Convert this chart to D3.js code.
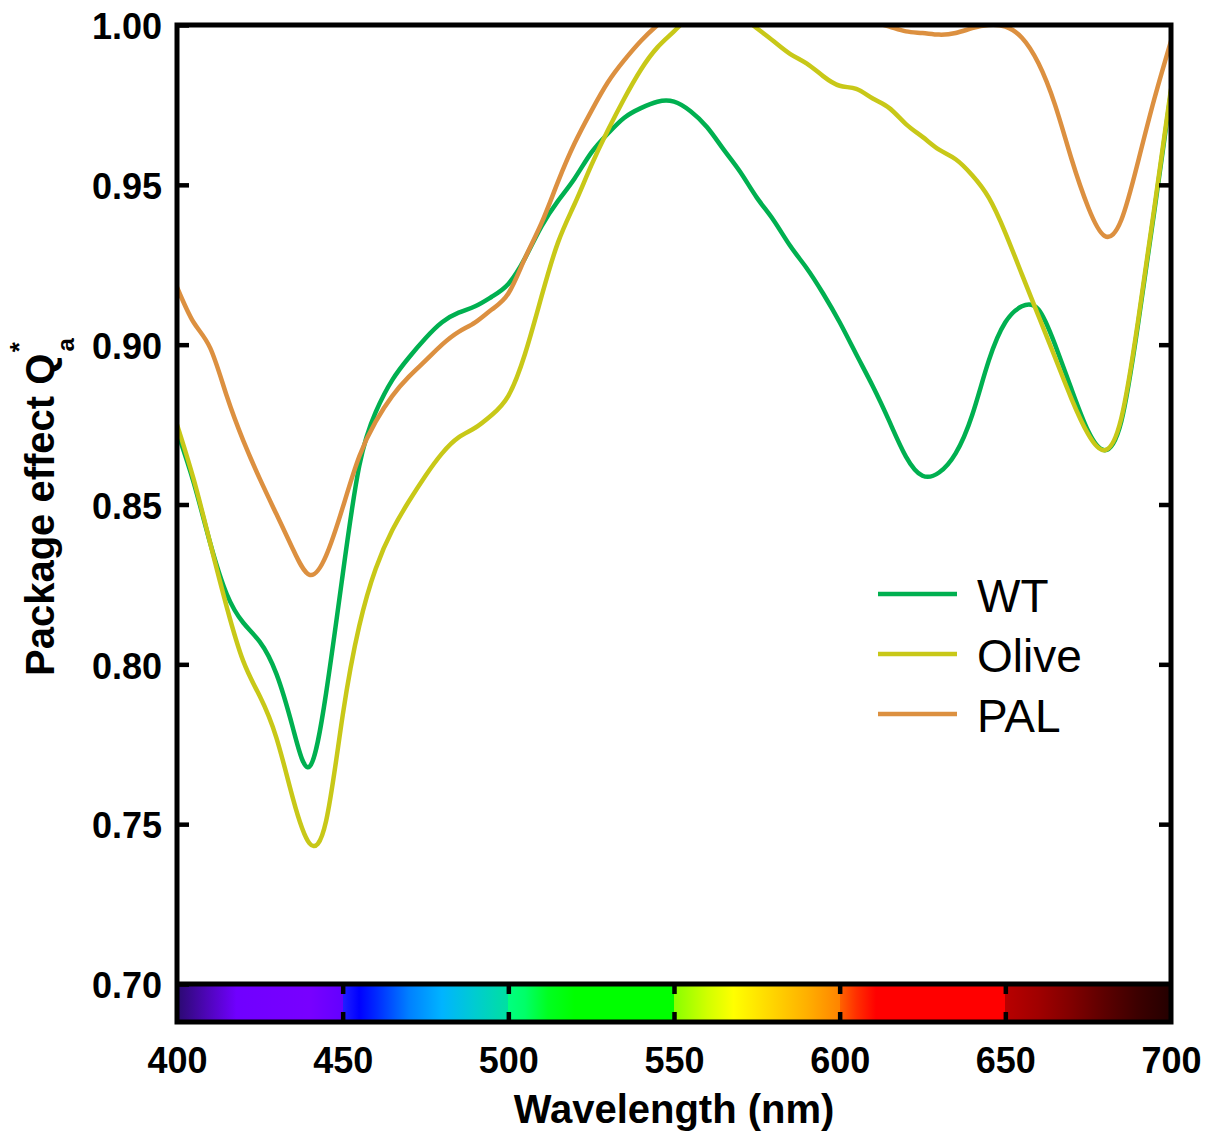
<!DOCTYPE html>
<html>
<head>
<meta charset="utf-8">
<script src="https://cdn.jsdelivr.net/npm/d3@7"></script>
<style>
  body { margin: 0; background: #fff; }
  text { font-family: Arial, "Liberation Sans", sans-serif; }
</style>
</head>
<body>
<div id="chart"></div>
<script>
// Wavelength grid (nm)
const wavelength = [400, 405, 410, 415, 420, 425, 430, 435, 440, 445,
                    450, 455, 460, 465, 470, 475, 480, 485, 490, 495,
                    500, 505, 510, 515, 520, 525, 530, 535, 540, 545,
                    550, 555, 560, 565, 570, 575, 580, 585, 590, 595,
                    600, 605, 610, 615, 620, 625, 630, 635, 640, 645,
                    650, 655, 660, 665, 670, 675, 680, 685, 690, 695, 700];

// Package effect Q*a
const wt = [0.873, 0.857, 0.838, 0.822, 0.813, 0.807, 0.797, 0.780, 0.768, 0.791,
            0.828, 0.862, 0.879, 0.889, 0.896, 0.902, 0.907, 0.910, 0.912, 0.915,
            0.919, 0.927, 0.937, 0.945, 0.952, 0.960, 0.966, 0.971, 0.974, 0.976,
            0.976, 0.973, 0.968, 0.961, 0.954, 0.946, 0.939, 0.931, 0.924, 0.916,
            0.907, 0.897, 0.887, 0.876, 0.865, 0.859, 0.860, 0.866, 0.878, 0.895,
            0.907, 0.912, 0.911, 0.900, 0.886, 0.873, 0.867, 0.876, 0.906, 0.942, 0.979];

const olive = [0.875, 0.858, 0.838, 0.818, 0.801, 0.790, 0.777, 0.758, 0.744, 0.751,
               0.784, 0.812, 0.830, 0.842, 0.851, 0.859, 0.866, 0.871, 0.874, 0.878,
               0.884, 0.897, 0.915, 0.932, 0.944, 0.956, 0.967, 0.977, 0.986, 0.993,
               0.998, 1.003, 1.006, 1.006, 1.003, 0.999, 0.995, 0.991, 0.988, 0.984,
               0.981, 0.980, 0.977, 0.974, 0.969, 0.965, 0.961, 0.958, 0.953, 0.946,
               0.935, 0.922, 0.909, 0.896, 0.883, 0.872, 0.867, 0.877, 0.907, 0.943, 0.980];

const pal = [0.918, 0.907, 0.899, 0.884, 0.870, 0.858, 0.847, 0.836, 0.828, 0.834,
             0.849, 0.865, 0.876, 0.884, 0.890, 0.895, 0.900, 0.904, 0.907, 0.911,
             0.916, 0.927, 0.938, 0.951, 0.963, 0.973, 0.982, 0.989, 0.995, 1.000,
             1.004, 1.006, 1.007, 1.008, 1.008, 1.008, 1.008, 1.007, 1.006, 1.005,
             1.004, 1.003, 1.001, 0.9995, 0.998, 0.9975, 0.997, 0.9975, 0.999, 1.000,
             0.9995, 0.996, 0.988, 0.975, 0.958, 0.943, 0.934, 0.939, 0.957, 0.977, 0.995];

const seriesNames = ["WT", "Olive", "PAL"];
const seriesColors = ["#00b050", "#c8c818", "#dc9040"];

const xTicks = [400, 450, 500, 550, 600, 650, 700];
const barTicks = [450, 500, 550, 600, 650];
const yTicks = [0.70, 0.75, 0.80, 0.85, 0.90, 0.95, 1.00];

// Spectrum colour bar stops (nm, colour); repeated nm gives the hard steps
const spectrumNm = [400, 408, 418, 440, 450,
                    450, 455, 460, 470, 480, 490, 500,
                    500, 505, 512, 520, 550,
                    550, 560, 568, 580, 590, 600,
                    600, 605, 611, 650,
                    650, 660, 670, 680, 690, 700];
const spectrumColor = ["#2a0a70", "#4a06b0", "#7000ff", "#7800ff", "#6400ff",
                       "#2020ff", "#0000ff", "#0028ff", "#0080ff", "#00b4ff", "#00ccd0", "#00e0a0",
                       "#00ff80", "#00ff68", "#00ff20", "#00ff00", "#00ff00",
                       "#88ff00", "#d0ff00", "#ffff00", "#ffd400", "#ffb000", "#ff8400",
                       "#ff6400", "#ff3000", "#ff0000", "#ff0000",
                       "#b80000", "#a00000", "#800000", "#5c0000", "#3c0000", "#240000"];

const width = 1211, height = 1138;
const svg = d3.select("#chart").append("svg")
    .attr("width", width)
    .attr("height", height);

const x = d3.scaleLinear().domain([400, 700]).range([177, 1171]);
const y = d3.scaleLinear().domain([0.70, 1.00]).range([984, 25]);
const barBottom = 1022;
const frameW = 5;

// Gradient for the spectrum bar
const defs = svg.append("defs");
const grad = defs.append("linearGradient")
    .attr("id", "spectrum")
    .attr("gradientUnits", "userSpaceOnUse")
    .attr("x1", x(400)).attr("x2", x(700))
    .attr("y1", 0).attr("y2", 0);
spectrumNm.forEach(function(nm, i) {
    grad.append("stop")
        .attr("offset", (nm - 400) / 300)
        .attr("stop-color", spectrumColor[i]);
});

defs.append("clipPath").attr("id", "plotClip")
  .append("rect")
    .attr("x", x(400)).attr("y", y(1.0))
    .attr("width", x(700) - x(400))
    .attr("height", y(0.70) - y(1.0));

// Spectrum bar
svg.append("rect")
    .attr("x", x(400)).attr("y", y(0.70))
    .attr("width", x(700) - x(400))
    .attr("height", barBottom - y(0.70))
    .attr("fill", "url(#spectrum)");

// Curves
const seriesValues = [wt, olive, pal];
const line = d3.line()
    .x(d => x(d[0]))
    .y(d => y(d[1]))
    .curve(d3.curveNatural);

svg.append("g")
    .attr("clip-path", "url(#plotClip)")
  .selectAll("path")
  .data(seriesValues)
  .enter().append("path")
    .attr("d", vals => line(wavelength.map((w, i) => [w, vals[i]])))
    .attr("fill", "none")
    .attr("stroke", (d, i) => seriesColors[i])
    .attr("stroke-width", 4.5)
    .attr("stroke-linejoin", "round");

// Frame
svg.append("rect")
    .attr("x", x(400)).attr("y", y(1.0))
    .attr("width", x(700) - x(400))
    .attr("height", barBottom - y(1.0))
    .attr("fill", "none")
    .attr("stroke", "#000")
    .attr("stroke-width", frameW);
svg.append("line")
    .attr("x1", x(400)).attr("x2", x(700))
    .attr("y1", y(0.70)).attr("y2", y(0.70))
    .attr("stroke", "#000")
    .attr("stroke-width", frameW);

function styleAxis(g, size) {
    g.select(".domain").remove();
    g.selectAll(".tick line").attr("stroke", "#000").attr("stroke-width", 4.5);
    g.selectAll("text")
        .attr("font-family", "Arial, 'Liberation Sans', sans-serif")
        .attr("font-weight", "bold")
        .attr("font-size", size)
        .attr("fill", "#000");
}

// Left axis (inward ticks + labels)
svg.append("g")
    .attr("transform", `translate(${x(400)},0)`)
    .call(d3.axisLeft(y).tickValues(yTicks).tickFormat(d3.format(".2f"))
          .tickSizeInner(-12).tickSizeOuter(0).tickPadding(15))
    .call(g => styleAxis(g, 36))
    .call(g => g.selectAll("text").attr("dy", "0.38em"));

// Right axis (inward ticks only)
svg.append("g")
    .attr("transform", `translate(${x(700)},0)`)
    .call(d3.axisRight(y).tickValues(yTicks.slice(1, -1)).tickFormat("")
          .tickSizeInner(-12).tickSizeOuter(0))
    .call(g => styleAxis(g, 36));

// Ticks inside the spectrum bar
svg.append("g")
    .attr("transform", `translate(0,${y(0.70)})`)
    .call(d3.axisBottom(x).tickValues(barTicks).tickFormat("").tickSizeInner(10).tickSizeOuter(0))
    .call(g => styleAxis(g, 36));
svg.append("g")
    .attr("transform", `translate(0,${barBottom})`)
    .call(d3.axisTop(x).tickValues(barTicks).tickFormat("").tickSizeInner(10).tickSizeOuter(0))
    .call(g => styleAxis(g, 36));

// Bottom axis labels
svg.append("g")
    .attr("transform", `translate(0,${barBottom})`)
    .call(d3.axisBottom(x).tickValues(xTicks).tickFormat(d3.format("d"))
          .tickSize(0).tickPadding(25))
    .call(g => styleAxis(g, 36));

// Axis titles
svg.append("text")
    .attr("x", (x(400) + x(700)) / 2)
    .attr("y", 1123)
    .attr("text-anchor", "middle")
    .attr("font-weight", "bold")
    .attr("font-size", 40)
    .text("Wavelength (nm)");

const yTitle = svg.append("text")
    .attr("transform", "translate(54,676) rotate(-90)")
    .attr("font-weight", "bold")
    .attr("font-size", 40);
yTitle.append("tspan").text("Package effect Q");
yTitle.append("tspan").attr("font-size", 24).attr("dx", 2).attr("dy", 20).text("a");
yTitle.append("tspan").attr("font-size", 26).attr("dx", -14).attr("dy", -46).text("*");

// Legend
const legend = svg.append("g")
  .selectAll("g")
  .data(seriesNames)
  .enter().append("g")
    .attr("transform", (d, i) => `translate(878,${594 + i * 60})`);
legend.append("line")
    .attr("x1", 0).attr("x2", 79)
    .attr("stroke", (d, i) => seriesColors[i])
    .attr("stroke-width", 4.5);
legend.append("text")
    .attr("x", 99)
    .attr("y", 18)
    .attr("font-size", 46)
    .text(d => d);
</script>
</body>
</html>
